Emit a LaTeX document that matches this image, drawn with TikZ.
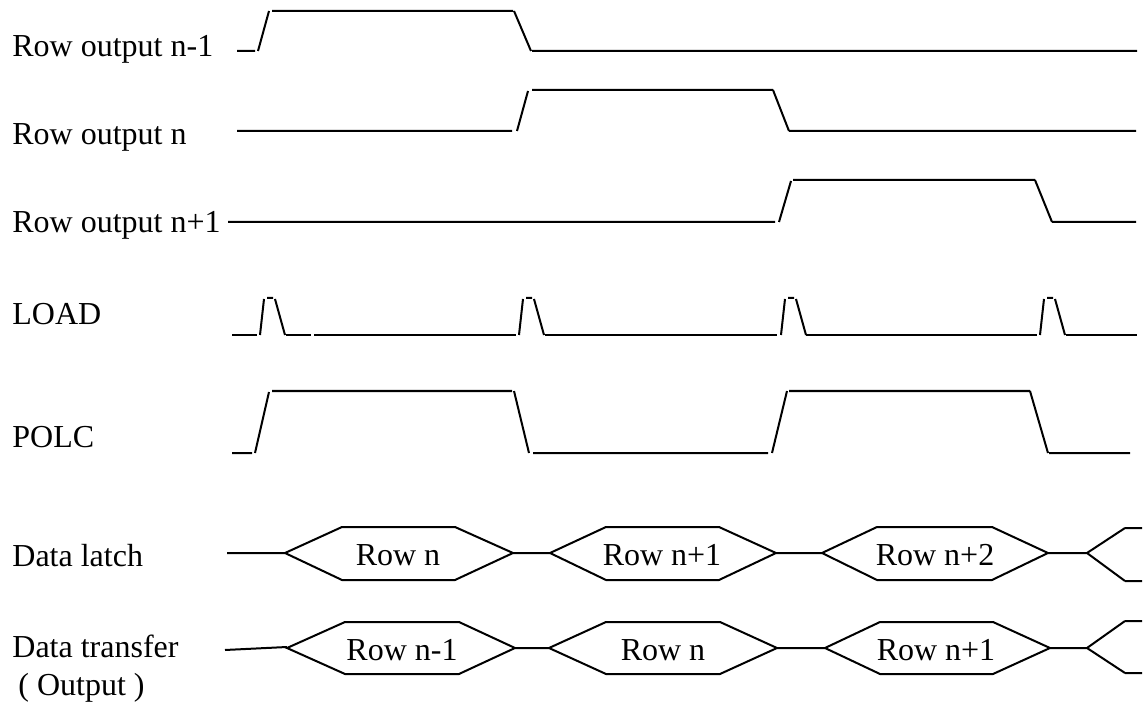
\documentclass[tikz,border=0pt]{standalone}
\usepackage{fontspec}
\setmainfont{Liberation Serif}
\begin{document}
\begin{tikzpicture}[x=0.5pt, y=-0.5pt, font=\fontsize{16}{18}\selectfont]
\tikzset{wave/.style={line width=1pt}}
\tikzset{sig/.style={anchor=base west, inner sep=0pt}}
\tikzset{cell/.style={anchor=base, inner sep=0pt}}
\useasboundingbox (0,0) rectangle (1148,706);

% signal names
\node[sig] (rowprev) at (12,57) {Row output n-1};
\node[sig] (rowcur) at (12,145) {Row output n};
\node[sig] (rownext) at (12,233) {Row output n+1};
\node[sig] (load) at (12,325) {LOAD};
\node[sig] (polc) at (12,447) {POLC};
\node[sig] (latch) at (12,567) {Data latch};
\node[sig] (xfer) at (12,657) {Data transfer};
\node[sig] (xferout) at (18,695) {( Output )};

% row outputs
\draw[wave] (237,51) -- (255,51) (258,51) -- (269,11) (272,11) -- (513,11)
  (514,11) -- (531,51) (532,51) -- (1137,51);
\draw[wave] (237,131) -- (512,131) (517,131) -- (528,91) (532,90) -- (773,90)
  (773,90) -- (789,131) (789,131) -- (1136,131);
\draw[wave] (228,222) -- (775,222) (779,222) -- (791,181) (793,180) -- (1035,180)
  (1035,180) -- (1052,222) (1052,222) -- (1136,222);

% LOAD pulses
\foreach \r in {260,519,781,1040}
  \draw[wave] (\r,335) -- (\r+4,299) (\r+7,298) -- (\r+13,298) (\r+15,299) -- (\r+25,335);
\draw[wave] (232,335) -- (257,335) (286,335) -- (311,335) (314,335) -- (516,335)
  (545,335) -- (777,335) (806,335) -- (1037,335) (1066,335) -- (1137,335);

% POLC
\draw[wave] (232,453) -- (252,453) (255,453) -- (269,392) (272,391) -- (512,391)
  (514,391) -- (529,453) (533,453) -- (768,453);
\draw[wave] (772,453) -- (787,391) (789,391) -- (1030,391)
  (1030,391) -- (1048,453) (1049,453) -- (1130,453);

% data latch
\foreach \l/\a/\b/\r in {285/342/455/513, 550/606/719/776, 822/877/992/1048}
  \draw[wave] (\l,553) -- (\a,527) -- (\b,527) -- (\r,553) -- (\b,580) -- (\a,580) -- cycle;
\draw[wave] (227,553) -- (285,553) (513,553) -- (550,553) (776,553) -- (822,553)
  (1048,553) -- (1087,553) (1125,528) -- (1087,553) -- (1125,581)
  (1125,528) -- (1142,528) (1125,581) -- (1142,581);
\node[cell] (latchA) at (398,565) {Row n};
\node[cell] (latchB) at (662,565) {Row n+1};
\node[cell] (latchC) at (935,565) {Row n+2};

% data transfer
\foreach \l/\a/\b/\r in {287/345/459/515, 549/606/720/777, 825/880/993/1050}
  \draw[wave] (\l,648) -- (\a,622) -- (\b,622) -- (\r,648) -- (\b,674) -- (\a,674) -- cycle;
\draw[wave] (225,650) -- (287,647) (515,648) -- (549,648) (777,648) -- (825,648)
  (1050,648) -- (1087,648) (1125,621) -- (1087,648) -- (1125,673)
  (1125,621) -- (1142,621) (1125,673) -- (1142,673);
\node[cell] (xferA) at (402,660) {Row n-1};
\node[cell] (xferB) at (663,660) {Row n};
\node[cell] (xferC) at (936,660) {Row n+1};

\end{tikzpicture}
\end{document}
